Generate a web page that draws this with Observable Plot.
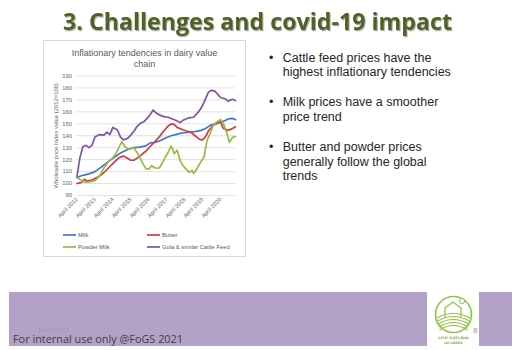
<!DOCTYPE html>
<html><head><meta charset="utf-8">
<script src="https://cdn.jsdelivr.net/npm/d3@7"></script>
<script src="https://cdn.jsdelivr.net/npm/@observablehq/plot@0.6"></script>
<style>
body{margin:0;background:#fff;}
#slide{position:relative;width:512px;height:350px;overflow:hidden;background:#fff;}
#deco{position:absolute;left:0;top:0;}
#chart{position:absolute;left:43px;top:65px;}
</style>
</head><body>
<div id="slide">
<svg id="deco" width="512" height="350"></svg>
<div id="chart"></div>
</div>
<script>
// ---- data (month offsets from April 2012, index values) ----
const seriesNames = ["Milk", "Butter", "Powder Milk", "Gola & similar Cattle Feed"];
const seriesColors = ["#4276CF", "#D23A3C", "#95BD45", "#7E55A6"];

const milkMonths = [0,3,6,9,12,16,20,25,29,34,38,42,46,49,52,56,60,63,66,69,72,76,79,83,86,89,92,96,99,101,104,106];
const milkValues = [105,106.5,107.5,108.5,110,113.5,117.5,122,125.5,128.5,130,130.5,131.5,134,134.5,136,138.5,140,141,142,142.5,143,143.5,144.5,146,148.5,150,151.5,152.5,154,154.5,153.5];

const butterMonths = [0,3,5,7,10,14,17,21,25,28,31,34,36,38,40,43,46,49,52,55,58,61,63,65,67,70,73,76,79,82,84,86,88,91,94,96,98,101,104,106];
const butterValues = [100,101,103.5,102,103,105.5,108,113,118,121.5,123,121,119.5,119.5,121,124,127,131,135,139,144,148,150,149.5,147,145.5,144,143,140,137,136.5,139,144,148.5,150.5,151.5,146,144.5,146,147.5];

const powderMonths = [0,2,4,6,9,12,15,18,21,24,26,28,30,32,34,36,38,40,42,44,46,48,50,52,55,57,59,61,63,64,65,67,69,71,73,75,77,78,80,82,85,87,89,91,94,96,98,100,102,104,106];
const powderValues = [105,103.5,102,101,101.5,102.5,106,113,118.5,121.5,125,130,135,131,129,129.5,130,126.5,122,117,112.5,112,115,113,113,117,122,126,131.5,128.5,125,128,119,115,112,109.5,111,108.5,112,116.5,122,136,141.5,148.5,152,153.5,150,143,134.5,138.5,139.5];

const golaMonths = [0,2,4,6,8,10,12,15,18,20,22,24,27,29,31,34,36,38,40,42,45,48,51,53,55,58,61,63,66,69,71,75,78,81,83,85,88,90,92,94,96,99,101,104,106];
const golaValues = [106,122,131,132,130,132,139,141,140.5,143,141,147,145,139,136.5,138,140.5,143.5,147.5,150,152,156,161.5,159,157.5,156,155.5,154.5,153,151,153,155,155.5,159.5,163,168,176.5,178,177.5,175,172,171,169,170.5,169.5];

const yTicks = [90,100,110,120,130,140,150,160,170,180,190];
const xTickYears = [2012,2013,2014,2015,2016,2017,2018,2019,2020];

const bulletLines = [
  ["Cattle feed prices have the", "highest inflationary tendencies"],
  ["Milk prices have a smoother", "price trend"],
  ["Butter and powder prices", "generally follow the global", "trends"]
];

// ---- build table ----
const start = new Date(Date.UTC(2012, 3, 1));
const toDate = m => d3.utcMonth.offset(start, m);
const allMonths = [milkMonths, butterMonths, powderMonths, golaMonths];
const allValues = [milkValues, butterValues, powderValues, golaValues];
const rows = [];
seriesNames.forEach((name, i) => {
  allMonths[i].forEach((m, j) => rows.push({series: name, date: toDate(m), value: allValues[i][j]}));
});

const chart = Plot.plot({
  width: 203,
  height: 165,
  marginLeft: 33.5,
  marginRight: 11,
  marginTop: 10.5,
  marginBottom: 35,
  style: {fontSize: "5.7px", fontFamily: "'Liberation Sans', Arial, sans-serif", color: "#666", background: "transparent"},
  x: {type: "utc", domain: [toDate(0), toDate(106)]},
  y: {domain: [90, 190]},
  marks: [
    Plot.gridY(yTicks, {stroke: "#d9d9d9", strokeOpacity: 1, strokeWidth: 0.8}),
    ...seriesNames.map((name, i) => Plot.line(rows.filter(r => r.series === name), {
      x: "date", y: "value", stroke: seriesColors[i], strokeWidth: 1.7, curve: "linear"
    })),
    Plot.axisY(yTicks, {tickSize: 0, tickPadding: 5, label: "Wholesale price Index value (2012=100)", labelAnchor: "center", labelArrow: "none", labelOffset: 23, fontSize: 5.9}),
    Plot.axisX(xTickYears.map(y => new Date(Date.UTC(y, 3, 1))), {tickSize: 0, tickPadding: 3, tickRotate: -45, tickFormat: d => "April " + d.getUTCFullYear(), label: null})
  ]
});
document.getElementById("chart").appendChild(chart);

// ---- slide decoration ----
const svg = d3.select("#deco");
const defs = svg.append("defs");
const f = defs.append("filter").attr("id", "sh").attr("x", "-5%").attr("y", "-20%").attr("width", "110%").attr("height", "150%");
f.append("feDropShadow").attr("dx", 1).attr("dy", 1.2).attr("stdDeviation", 0.7).attr("flood-color", "#000").attr("flood-opacity", 0.35);

svg.append("text").attr("x", 257.5).attr("y", 30).attr("text-anchor", "middle")
  .attr("textLength", 389).attr("lengthAdjust", "spacingAndGlyphs")
  .attr("font-family", "'Open Sans', sans-serif").attr("font-weight", 700).attr("font-size", 23)
  .attr("fill", "#4F6228").attr("filter", "url(#sh)").text("3. Challenges and covid-19 impact");

// chart frame
svg.append("rect").attr("x", 43.5).attr("y", 40.5).attr("width", 202).attr("height", 216)
  .attr("fill", "#fff").attr("stroke", "#d9d9d9");
const ct = svg.append("g").attr("font-family", "'Liberation Sans', Arial, sans-serif").attr("font-size", 9).attr("fill", "#595959").attr("text-anchor", "middle");
ct.append("text").attr("x", 144.5).attr("y", 55.5).text("Inflationary tendencies in dairy value");
ct.append("text").attr("x", 144.5).attr("y", 66.5).text("chain");

// legend
const lg = svg.append("g").attr("font-family", "'Liberation Sans', Arial, sans-serif").attr("font-size", 5.8).attr("fill", "#595959");
const legPos = [[63, 235], [147, 235], [63, 247], [147, 247]];
seriesNames.forEach((name, i) => {
  const [lx, ly] = legPos[i];
  lg.append("line").attr("x1", lx).attr("x2", lx + 13).attr("y1", ly).attr("y2", ly).attr("stroke", seriesColors[i]).attr("stroke-width", 1.7);
  lg.append("text").attr("x", lx + 15).attr("y", ly + 2).text(name);
});

// bullets
const bt = svg.append("g").attr("font-family", "'Liberation Sans', Arial, sans-serif").attr("font-size", 12.5).attr("fill", "#262626");
let by = 61.5;
bulletLines.forEach(lines => {
  bt.append("text").attr("x", 269).attr("y", by).text("•");
  lines.forEach(l => { bt.append("text").attr("x", 282.7).attr("y", by).text(l); by += 14.7; });
  by += 15.3;
});

// footer
svg.append("rect").attr("x", 9).attr("y", 292).attr("width", 418).attr("height", 54).attr("fill", "#B3A2C7");
svg.append("rect").attr("x", 479).attr("y", 292).attr("width", 33).attr("height", 54).attr("fill", "#B3A2C7");
svg.append("text").attr("x", 38).attr("y", 331.5).attr("font-family", "'Open Sans', sans-serif").attr("font-size", 6).attr("fill", "#9a9a9a").text("24-02-2021");
svg.append("text").attr("x", 13).attr("y", 343).attr("font-family", "'Open Sans', sans-serif").attr("font-size", 10.5)
  .attr("textLength", 170).attr("lengthAdjust", "spacingAndGlyphs").attr("fill", "#404040").text("For internal use only @FoGS 2021");
svg.append("text").attr("x", 473).attr("y", 333).attr("font-family", "'Open Sans', sans-serif").attr("font-size", 7.5).attr("fill", "#8a8a8a").text("8");

// logo
const lo = svg.append("g");
lo.append("circle").attr("cx", 453.5).attr("cy", 314.5).attr("r", 18).attr("fill", "#fff").attr("stroke", "#8CC63F").attr("stroke-width", 1.6);
lo.append("path").attr("d", "M445,318 L445,308 L453,302 L461,308 L461,318").attr("fill", "none").attr("stroke", "#8CC63F").attr("stroke-width", 1.3);
lo.append("circle").attr("cx", 462).attr("cy", 301).attr("r", 2.6).attr("fill", "#fff").attr("stroke", "#8CC63F").attr("stroke-width", 1);
[0,1,2,3,4].forEach(k => {
  lo.append("path").attr("d", `M${437 + k * 0.6},${318 + k * 3} Q453,${309 + k * 3} ${470 - k * 0.6},${318 + k * 3}`)
    .attr("fill", "none").attr("stroke", "#8CC63F").attr("stroke-width", 1.1);
});
lo.append("text").attr("x", 453.5).attr("y", 339).attr("text-anchor", "middle").attr("font-family", "'DejaVu Serif', serif").attr("font-size", 3.6).attr("font-weight", 700).attr("fill", "#6E9E2E").text("LIVE NATURAL");
lo.append("text").attr("x", 453.5).attr("y", 343.5).attr("text-anchor", "middle").attr("font-family", "'DejaVu Serif', serif").attr("font-size", 3).attr("font-weight", 700).attr("fill", "#6E9E2E").text("GO GREEN");
</script>
</body></html>
